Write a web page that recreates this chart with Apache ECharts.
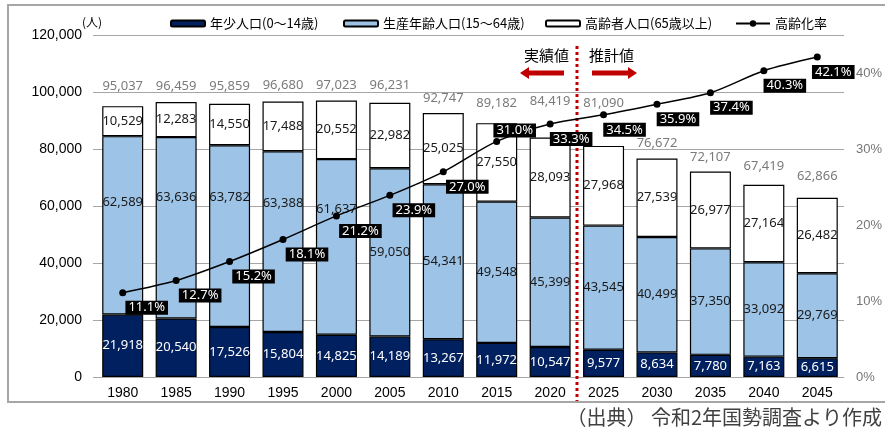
<!DOCTYPE html>
<html>
<head>
<meta charset="utf-8">
<script src="https://cdn.jsdelivr.net/npm/echarts@6/dist/echarts.min.js"></script>
<style>
html,body{margin:0;padding:0;background:#fff;}
#main{width:885px;height:432px;}
</style>
</head>
<body>
<div id="main"></div>
<script>
// ---- data ----
const years = ['1980','1985','1990','1995','2000','2005','2010','2015','2020','2025','2030','2035','2040','2045'];
const youth = [21918,20540,17526,15804,14825,14189,13267,11972,10547,9577,8634,7780,7163,6615];
const working = [62589,63636,63782,63388,61637,59050,54341,49548,45399,43545,40499,37350,33092,29769];
const elderly = [10529,12283,14550,17488,20552,22982,25025,27550,28093,27968,27539,26977,27164,26482];
const totals = [95037,96459,95859,96680,97023,96231,92747,89182,84419,81090,76672,72107,67419,62866];
const agingRate = [11.1,12.7,15.2,18.1,21.2,23.9,27.0,31.0,33.3,34.5,35.9,37.4,40.3,42.1];
const seriesNames = ['年少人口(0～14歳)','生産年齢人口(15～64歳)','高齢者人口(65歳以上)','高齢化率'];

// ---- label placement tweaks (style only) ----
const workingLabelDy = [-23,-30,-39,-38,-38,0,0,0,0,0,0,0,0,0];
const totalLabelGap = [20,16,18,16,15,17,14,20,35,43,15,14,19,22];
const rateLabelOffset = agingRate.map((v,i)=> i===7 ? [18,-11] : (i===13 ? [16,15] : (i<7 ? [24,15] : [21,15])));

const fmt = v => Number(v).toLocaleString('en-US');
const numFont = 'Noto Sans';
const axisFont = 'Liberation Sans';
const cjkFont = 'Noto Sans CJK JP';

const chart = echarts.init(document.getElementById('main'));
const barBorder = {borderColor:'#000', borderWidth:1.2};

const option = {
  animation:false,
  backgroundColor:'#fff',
  grid:{left:96, right:40, top:35, bottom:55},
  legend:[
    {data:[seriesNames[0]], left:165, top:12, itemWidth:34, itemHeight:6, itemGap:0, textStyle:{fontFamily:cjkFont, fontSize:13, color:'#000'}},
    {data:[seriesNames[1]], left:338, top:12, itemWidth:34, itemHeight:6, itemGap:0, textStyle:{fontFamily:cjkFont, fontSize:13, color:'#000'}},
    {data:[seriesNames[2]], left:540, top:12, itemWidth:34, itemHeight:6, itemGap:0, textStyle:{fontFamily:cjkFont, fontSize:13, color:'#000'}},
    {data:[seriesNames[3]], left:730, top:12, itemWidth:34, itemHeight:8, itemGap:0, textStyle:{fontFamily:cjkFont, fontSize:13, color:'#000'}}
  ],
  xAxis:{
    type:'category', data:years,
    axisLine:{lineStyle:{color:'#A6A6A6', width:1}},
    axisTick:{show:false},
    axisLabel:{fontFamily:axisFont, fontSize:14, color:'#000', margin:9}
  },
  yAxis:[
    {
      type:'value', min:0, max:120000, interval:20000,
      name:'(人)', nameLocation:'end', nameGap:4,
      nameTextStyle:{fontFamily:cjkFont, fontSize:12, color:'#000', padding:[0,8,0,0]},
      axisLine:{show:false},
      axisTick:{show:true, length:3, lineStyle:{color:'#A6A6A6'}},
      axisLabel:{fontFamily:axisFont, fontSize:14, color:'#000', margin:14, formatter:v=>fmt(v)},
      splitLine:{lineStyle:{color:'#A6A6A6', width:1}}
    },
    {
      type:'value', min:0, max:45, interval:10, position:'right',
      axisLine:{show:false}, axisTick:{show:false}, splitLine:{show:false},
      axisLabel:{fontFamily:axisFont, fontSize:13, color:'#767676', margin:12, showMaxLabel:false, formatter:'{value}%'}
    }
  ],
  series:[
    {
      name:seriesNames[0], type:'bar', stack:'pop', barWidth:41,
      itemStyle:Object.assign({color:'#002060'}, barBorder),
      label:{show:true, position:'inside', color:'#fff', fontFamily:numFont, fontSize:13, formatter:p=>fmt(p.value)},
      data:youth
    },
    {
      name:seriesNames[1], type:'bar', stack:'pop', barWidth:41,
      itemStyle:Object.assign({color:'#9DC3E6'}, barBorder),
      label:{show:true, position:'inside', color:'#1a1a1a', fontFamily:numFont, fontSize:13, formatter:p=>fmt(p.value)},
      data:working.map((v,i)=>({value:v, label:{offset:[0, workingLabelDy[i]]}}))
    },
    {
      name:seriesNames[2], type:'bar', stack:'pop', barWidth:41,
      itemStyle:Object.assign({color:'#FFFFFF'}, barBorder),
      label:{show:true, position:'inside', color:'#1a1a1a', fontFamily:numFont, fontSize:13, formatter:p=>fmt(p.value)},
      data:elderly
    },
    {
      name:'total', type:'scatter', symbolSize:1,
      itemStyle:{color:'rgba(0,0,0,0)'},
      label:{show:true, position:'inside', color:'#595959', fontFamily:numFont, fontSize:13, formatter:p=>fmt(p.value)},
      z:4,
      data:totals.map((v,i)=>({value:v, label:{offset:[0, -totalLabelGap[i]]}}))
    },
    {
      name:seriesNames[3], type:'line', yAxisIndex:1, smooth:0.3,
      symbol:'circle', symbolSize:7,
      lineStyle:{color:'#000', width:1.5},
      itemStyle:{color:'#000'},
      z:6,
      label:{show:true, position:'inside', color:'#fff', backgroundColor:'#000', padding:[1,3,0,3],
             fontFamily:numFont, fontSize:13, formatter:p=>p.value.toFixed(1)+'%'},
      data:agingRate.map((v,i)=>({value:v, label:{offset:rateLabelOffset[i]}}))
    }
  ]
};
chart.setOption(option);

// annotations: boundary between actual and projected values
const xa = chart.convertToPixel({xAxisIndex:0}, '2020');
const xb = chart.convertToPixel({xAxisIndex:0}, '2025');
const m = Math.round((xa + xb) / 2);
const red = '#C00000';
const ay = 73;
function arrow(x1, x2, dir){
  const sh = 2.5, hh = 6, hl = 9;
  const base = x2 - dir*hl;
  return {type:'polygon', shape:{points:[[x1,ay-sh],[base,ay-sh],[base,ay-hh],[x2,ay],[base,ay+hh],[base,ay+sh],[x1,ay+sh]]}, style:{fill:red}, z:10};
}
chart.setOption({
  graphic:[
    {type:'rect', shape:{x:8, y:5, width:900, height:397}, style:{fill:'none', stroke:'#A6A6A6', lineWidth:2}, z:0, silent:true},
    {type:'line', shape:{x1:m, y1:46, x2:m, y2:401}, style:{stroke:red, lineWidth:3, lineDash:[3,3]}, z:1},
    {type:'text', x:m-8, y:55, style:{text:'実績値', font:'15px "Noto Sans CJK JP"', fill:'#000', textAlign:'right', textVerticalAlign:'middle'}, z:10},
    {type:'text', x:m+12, y:55, style:{text:'推計値', font:'15px "Noto Sans CJK JP"', fill:'#000', textAlign:'left', textVerticalAlign:'middle'}, z:10},
    arrow(m-13, m-57, -1),
    arrow(m+15, m+60, 1),
    {type:'text', x:882, y:417, style:{text:'（出典） 令和2年国勢調査より作成', font:'20px "Noto Sans CJK JP"', fill:'#404040', textAlign:'right', textVerticalAlign:'middle'}, z:10}
  ]
});
</script>
</body>
</html>
